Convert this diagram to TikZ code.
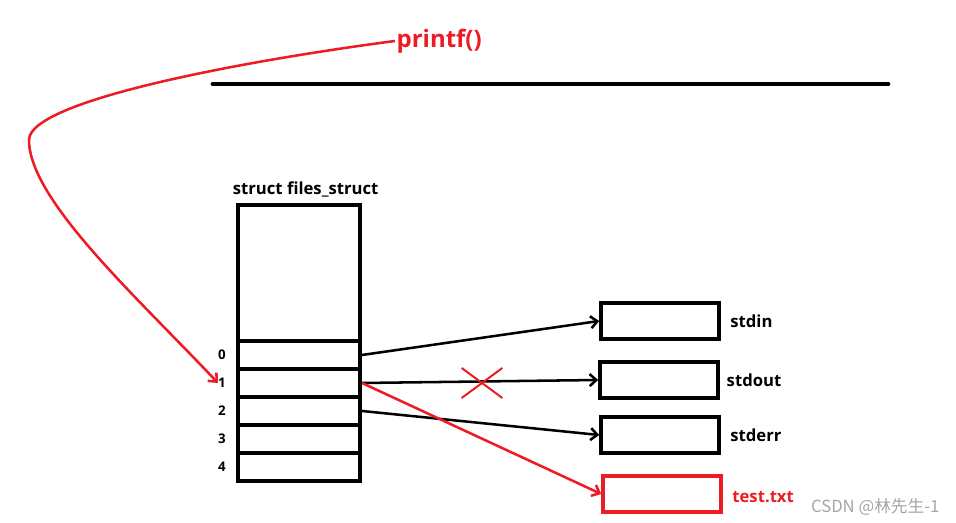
\documentclass[tikz,border=0pt]{standalone}
\usepackage{fontspec}
\setmainfont{Open Sans}
\newfontfamily\cjkfont{Noto Sans CJK SC}
\usetikzlibrary{arrows.meta, positioning, shapes.misc, calc}
\definecolor{penRed}{RGB}{237,28,36}
\definecolor{markGray}{RGB}{165,165,165}

\begin{document}
\begin{tikzpicture}[
    x=0.75pt, y=0.75pt,
    node distance=3pt,
    slot/.style={
      rectangle, draw=black, line width=3pt, minimum width=91.5pt,
      minimum height=21pt, inner sep=0pt
    },
    filebox/.style={
      rectangle, draw=black, line width=3.2pt, minimum width=88pt,
      minimum height=27pt, inner sep=0pt
    },
    idx/.style={font=\bfseries\fontsize{10}{12}\selectfont, inner sep=0pt},
    lbl/.style={font=\bfseries\fontsize{12.5}{15}\selectfont, inner sep=1pt},
    arr/.style={-{Straight Barb[length=5pt, width=9pt]}, line width=1.9pt},
    redarr/.style={arr, penRed}
  ]
    \useasboundingbox (0,0) rectangle (956,523);

    % user space / kernel space separator
    \coordinate (sepL) at (213,439);
    \coordinate (sepR) at (888,439);
    \draw[line width=3.6pt, line cap=round] (sepL) -- (sepR);

    \node[lbl, anchor=west, text=penRed, font=\bfseries\fontsize{18}{22}\selectfont]
      (printf) at (395,482) {printf()};

    % fd table
    \node[slot, minimum height=102pt] (table) at (299,250) {};
    \node[lbl, above=3pt of table, xshift=5pt] (tname) {struct files\_struct};
    \foreach \i in {0,...,4} {
      \node[slot] (fd\i) at (299,{168-28*\i}) {};
      \node[idx] (n\i) at ($(fd\i.west)+(-14,0)$) {\i};
    }

    % file objects
    \node[filebox] (stdin) at (660,202) {};
    \node[filebox] (stdout) at (659,143) {};
    \node[filebox] (stderr) at (660,88) {};
    \node[filebox, draw=penRed] (testtxt) at (662,29) {};
    \node[lbl, right=6pt of stdin] (lin) {stdin};
    \node[lbl, right=4pt of stdout] (lout) {stdout};
    \node[lbl, right=6pt of stderr] (lerr) {stderr};
    \node[lbl, right=6pt of testtxt, text=penRed, yshift=-2pt] (ltxt) {test.txt};

    \draw[arr] (fd0.east) -- (stdin.west);
    \draw[arr] (fd1.east) -- (stdout.west);
    \draw[arr] (fd2.east) -- (stderr.west);
    \draw[redarr] (fd1.east) -- (testtxt.west);

    % the old stdout link is cut
    \node[cross out, draw=penRed, line width=1.5pt, minimum width=29pt,
      minimum height=21pt, inner sep=0pt] (cut) at (482,140) {};

    \coordinate (bend) at (29,383);
    \draw[redarr] (printf.west) .. controls (250,463) and (29,423) .. (bend)
      .. controls (29,323) and (138,225) .. (n1.west);

    \node[anchor=east, text=markGray, font=\cjkfont\fontsize{12.5}{15}\selectfont]
      (mark) at (944,16) {CSDN @林先生-1};
  \end{tikzpicture}
\end{document}
